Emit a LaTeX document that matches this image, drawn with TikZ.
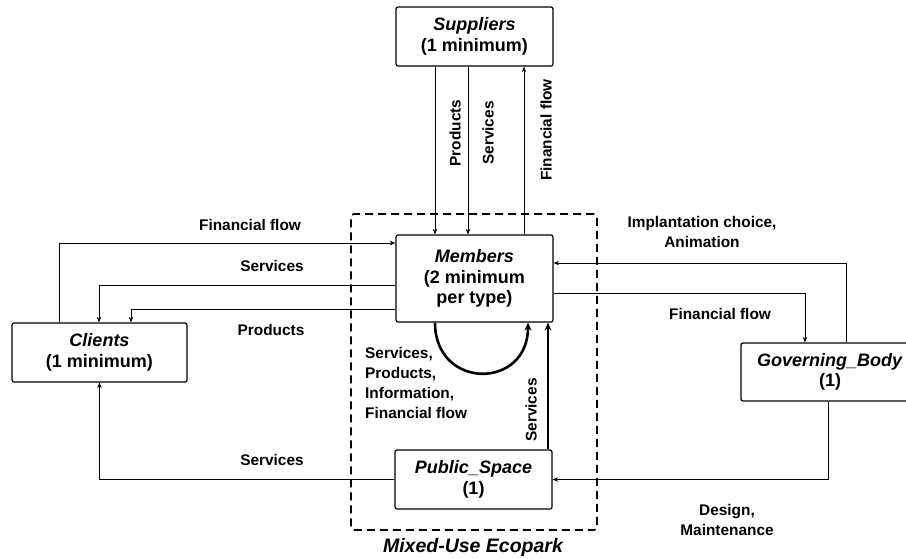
\documentclass[tikz,border=0pt]{standalone}
\usepackage{fontspec}
\setmainfont{Liberation Sans}
\usetikzlibrary{arrows.meta}
\begin{document}
\begin{tikzpicture}[x=1pt,y=-1pt,
  box/.style={draw,line width=1.2pt,rounded corners=2pt,inner sep=0pt,align=center,
    font=\fontsize{18}{20.5}\selectfont\bfseries},
  lbl/.style={inner sep=0pt,align=center,font=\fontsize{15.4}{20}\selectfont\bfseries},
  arr/.style={line width=0.9pt,-{Stealth[length=5.5pt,width=4.5pt]}},
  thickarr/.style={line width=2.6pt,-{Stealth[length=8pt,width=7pt]}},
  eco/.style={draw,dash pattern=on 8pt off 5pt,line width=1.6pt,rounded corners=3pt,inner sep=0pt}]
\useasboundingbox (0,0) rectangle (906,558);
% container
\node[eco,minimum width=246pt,minimum height=316pt] (eco) at (474,372) {};
\node[inner sep=0pt,font=\fontsize{19.5}{22}\selectfont\bfseries\itshape] (ecolbl) at (473,547) {Mixed-Use Ecopark};
% boxes
\node[box,minimum width=157pt,minimum height=59pt] (sup) at (474.5,36.5) {\textit{Suppliers}\\(1 minimum)};
\node[box,minimum width=157pt,minimum height=87pt] (mem) at (474.5,278.5) {\textit{Members}\\(2 minimum\\per type)};
\node[box,minimum width=175pt,minimum height=59pt] (cli) at (99.5,352.5) {\textit{Clients}\\(1 minimum)};
\node[box,minimum width=157pt,minimum height=59pt] (pub) at (473.5,479.5) {\textit{Public\_Space}\\(1)};
\node[box,minimum width=178pt,minimum height=58pt] (gov) at (830,372) {\textit{Governing\_Body}\\(1)};
% suppliers <-> members
\draw[arr] (sup.south -| 435,0) -- (mem.north -| 435,0);
\draw[arr] (sup.south -| 468,0) -- (mem.north -| 468,0);
\draw[arr] (mem.north -| 524,0) -- (sup.south -| 524,0);
\node[lbl,rotate=90] (lp) at (455,133) {Products};
\node[lbl,rotate=90] (ls) at (488,133) {Services};
\node[lbl,rotate=90] (lf) at (546,130) {Financial flow};
% clients <-> members
\draw[arr] (cli.north -| 59,0) |- (mem.west |- 0,243);
\draw[arr] (mem.west |- 0,285) -| (cli.north -| 99,0);
\draw[arr] (mem.west |- 0,309) -| (cli.north -| 131,0);
\draw[arr] (pub.west) -| (cli.south);
\node[lbl] (l1) at (250,225) {Financial flow};
\node[lbl] (l2) at (272,266) {Services};
\node[lbl] (l3) at (271,330) {Products};
\node[lbl] (l4) at (272,460) {Services};
% governing body
\draw[arr] (gov.north -| 846,0) |- (mem.east |- 0,263);
\draw[arr] (mem.east |- 0,293) -| (gov.north -| 805,0);
\draw[arr] (gov.south -| 828,0) |- (pub.east);
\node[lbl] (l5) at (702,232) {Implantation choice,\\Animation};
\node[lbl] (l6) at (720,314) {Financial flow};
\node[lbl] (l7) at (727,520) {Design,\\Maintenance};
% internal flows
\draw[thickarr] (pub.north -| 548,0) -- (mem.south -| 548,0);
\node[lbl,rotate=90] (l8) at (531,410) {Services};
\draw[thickarr] (mem.south -| 435,0) .. controls (435,390) and (528,390) .. (mem.south -| 528,0);
\node[lbl,align=left,anchor=west] (l9) at (365,383) {Services,\\Products,\\Information,\\Financial flow};
\end{tikzpicture}
\end{document}
